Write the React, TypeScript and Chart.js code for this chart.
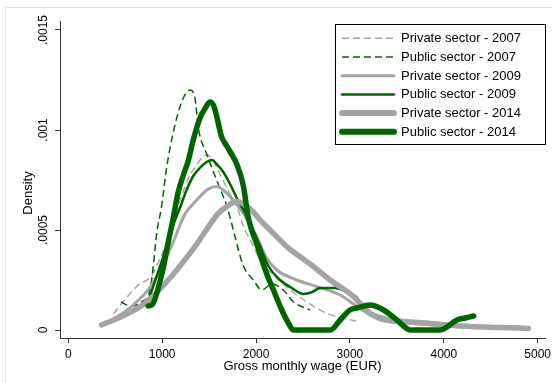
import React, { useEffect, useRef } from 'react';
import { Chart, registerables } from 'chart.js';

Chart.register(...registerables);

const FONT = "'Liberation Sans', Arial, sans-serif";

// Axis ticks
const xTickValues = [0, 1000, 2000, 3000, 4000, 5000];
const xTickLabels = ['0', '1000', '2000', '3000', '4000', '5000'];
const yTickValues = [0, 0.0005, 0.001, 0.0015];
const yTickLabels = ['0', '.0005', '.001', '.0015'];

const xTitle = 'Gross monthly wage (EUR)';
const yTitle = 'Density';

const seriesNames = [
  'Private sector - 2007',
  'Public sector - 2007',
  'Private sector - 2009',
  'Public sector - 2009',
  'Private sector - 2014',
  'Public sector - 2014',
];

// Private sector - 2007
const priv2007X = [480, 600, 745, 887, 950, 1000, 1100, 1200, 1300, 1349, 1420, 1474, 1540, 1616, 1700, 1794, 1865, 1971, 2043, 2150, 2291, 2420, 2576, 2720, 2861, 2967, 3100];
const priv2007Y = [0.00008, 0.00015, 0.000225, 0.00027, 0.00033, 0.00038, 0.00052, 0.00066, 0.00078, 0.00081, 0.00086, 0.000875, 0.00085, 0.00078, 0.0007, 0.00062, 0.00052, 0.00042, 0.00035, 0.00029, 0.00023, 0.00018, 0.00013, 0.00009, 0.000067, 0.000055, 0.00004];

// Public sector - 2007
const pub2007X = [560, 660, 780, 870, 905, 941, 994, 1047, 1136, 1225, 1296, 1349, 1385, 1474, 1580, 1688, 1758, 1812, 1865, 1971, 2061, 2167, 2290, 2400, 2576];
const pub2007Y = [0.00014, 0.00012, 0.00014, 0.0002, 0.00032, 0.00048, 0.00062, 0.00081, 0.001025, 0.00116, 0.0012, 0.00116, 0.00101, 0.00088, 0.00075, 0.00062, 0.0005, 0.0004, 0.00032, 0.00025, 0.0002, 0.00023, 0.0002, 0.00014, 0.0001];

// Private sector - 2009
const priv2009X = [420, 600, 750, 880, 1000, 1100, 1243, 1349, 1491, 1580, 1651, 1723, 1865, 2007, 2100, 2221, 2434, 2647, 2896, 3100, 3322, 3675, 4000];
const priv2009Y = [0.00004, 0.00009, 0.00015, 0.00022, 0.00032, 0.00042, 0.00058, 0.00064, 0.000705, 0.000717, 0.0007, 0.000667, 0.000583, 0.000467, 0.00037, 0.0003, 0.00025, 0.000217, 0.000175, 0.00011, 0.00005, 0.000033, 0.00002];

// Public sector - 2009
const pub2009X = [870, 950, 1000, 1065, 1130, 1189, 1260, 1331, 1400, 1474, 1530, 1598, 1651, 1723, 1794, 1865, 1936, 2043, 2131, 2256, 2380, 2505, 2600, 2683, 2780, 2843, 2967, 3074];
const pub2009Y = [0.00017, 0.00028, 0.00035, 0.00045, 0.00054, 0.00061, 0.0007, 0.00077, 0.00081, 0.00084, 0.00085, 0.00082, 0.00079, 0.00073, 0.00066, 0.0006, 0.00053, 0.00042, 0.00032, 0.00025, 0.00021, 0.00018, 0.00019, 0.00021, 0.00021, 0.00021, 0.00019, 0.000165];

// Private sector - 2014
const priv2014X = [354, 567, 816, 1065, 1349, 1598, 1688, 1794, 1901, 1971, 2043, 2149, 2327, 2576, 2790, 3038, 3216, 3429, 3643, 3856, 4282, 4600, 4900];
const priv2014Y = [0.000025, 0.000067, 0.000133, 0.00025, 0.000417, 0.000583, 0.000617, 0.000642, 0.00062, 0.00059, 0.00055, 0.0005, 0.000417, 0.00033, 0.00025, 0.000167, 0.000083, 0.00005, 0.00004, 0.000033, 0.000017, 0.000013, 0.000008];

// Public sector - 2014
const pub2014X = [851, 900, 958, 1011, 1065, 1118, 1171, 1230, 1280, 1331, 1403, 1460, 1509, 1550, 1590, 1630, 1688, 1750, 1794, 1865, 1918, 2007, 2114, 2185, 2274, 2350, 2398, 2790, 2896, 3000, 3074, 3216, 3358, 3500, 3643, 3962, 4141, 4230, 4318];
const pub2014Y = [0.00012, 0.00013, 0.00021, 0.00031, 0.00044, 0.00056, 0.00069, 0.00078, 0.00085, 0.00095, 0.00106, 0.00111, 0.00114, 0.00112, 0.00105, 0.00097, 0.00092, 0.00087, 0.00083, 0.00072, 0.00056, 0.00043, 0.00028, 0.0002, 0.0001, 0.00003, 0, 0, 0.00005, 0.0001, 0.00011, 0.000125, 0.0001, 0.00005, 0, 0, 0.00005, 0.00006, 0.00007];

const seriesX = [priv2007X, pub2007X, priv2009X, pub2009X, priv2014X, pub2014X];
const seriesY = [priv2007Y, pub2007Y, priv2009Y, pub2009Y, priv2014Y, pub2014Y];

const GRAY = '#a4a4a4';
const GREEN = '#006400';
const seriesColors = [GRAY, GREEN, GRAY, GREEN, GRAY, GREEN];
const seriesWidths = [1.5, 1.5, 3, 2.5, 5.5, 5.5];
const legendWidths = [1.5, 1.5, 3, 2.5, 6, 6];
const seriesDash: number[][] = [[7, 4], [7, 4], [], [], [], []];

const bgPlugin = {
  id: 'bgPlugin',
  beforeDraw(chart: any) {
    const { ctx, width, height } = chart;
    ctx.save();
    ctx.fillStyle = '#ffffff';
    ctx.fillRect(0, 0, width, height);
    ctx.strokeStyle = '#e4e4e4';
    ctx.lineWidth = 1;
    ctx.beginPath();
    ctx.moveTo(5.5, height);
    ctx.lineTo(5.5, 7.5);
    ctx.lineTo(width, 7.5);
    ctx.stroke();
    ctx.restore();
  },
};

const titlePlugin = {
  id: 'yTitlePlugin',
  afterDraw(chart: any) {
    const { ctx } = chart;
    ctx.save();
    ctx.translate(28, 193);
    ctx.rotate(-Math.PI / 2);
    ctx.font = `13px ${FONT}`;
    ctx.fillStyle = '#000';
    ctx.textAlign = 'center';
    ctx.textBaseline = 'middle';
    ctx.fillText(yTitle, 0, 0);
    ctx.restore();
  },
};

const legendPlugin = {
  id: 'boxLegend',
  afterDraw(chart: any) {
    const { ctx } = chart;
    const left = 335.5, top = 24.5, right = 545.5, bottom = 144.5;
    ctx.save();
    ctx.fillStyle = '#fff';
    ctx.fillRect(left, top, right - left, bottom - top);
    ctx.strokeStyle = '#000';
    ctx.lineWidth = 1;
    ctx.setLineDash([]);
    ctx.strokeRect(left, top, right - left, bottom - top);
    seriesNames.forEach((name, i) => {
      const y = 38.3 + i * 18.7;
      ctx.save();
      ctx.strokeStyle = seriesColors[i];
      ctx.lineWidth = legendWidths[i];
      ctx.setLineDash(seriesDash[i]);
      ctx.lineCap = seriesDash[i].length ? 'butt' : 'round';
      ctx.beginPath();
      ctx.moveTo(342, y);
      ctx.lineTo(394, y);
      ctx.stroke();
      ctx.restore();
      ctx.font = `13px ${FONT}`;
      ctx.fillStyle = '#000';
      ctx.textAlign = 'left';
      ctx.textBaseline = 'middle';
      ctx.fillText(name, 401, y + 0.5);
    });
    ctx.restore();
  },
};

export default function App() {
  const ref = useRef<HTMLCanvasElement | null>(null);

  useEffect(() => {
    const canvas = ref.current;
    if (!canvas) return;
    const datasets = seriesNames.map((name, i) => ({
      label: name,
      data: seriesX[i].map((x, j) => ({ x, y: seriesY[i][j] })),
      borderColor: seriesColors[i],
      backgroundColor: seriesColors[i],
      borderWidth: seriesWidths[i],
      borderDash: seriesDash[i],
      borderCapStyle: seriesDash[i].length ? 'butt' : 'round',
      borderJoinStyle: 'round',
      cubicInterpolationMode: 'monotone',
      pointRadius: 0,
      fill: false,
      order: 5 - i,
    }));

    const chart = new Chart(canvas, {
      type: 'line',
      data: { datasets } as any,
      options: {
        animation: false,
        responsive: false,
        devicePixelRatio: 1,
        layout: { padding: { top: 21, right: 7, left: 0, bottom: 0 } },
        plugins: { legend: { display: false }, tooltip: { enabled: false } },
        scales: {
          x: {
            type: 'linear',
            min: -88.4,
            max: 5077.8,
            afterBuildTicks: (s: any) => {
              s.ticks = xTickValues.map((v) => ({ value: v }));
            },
            afterFit: (s: any) => {
              s.height = 45;
              s.paddingLeft = 0;
              s.paddingRight = 0;
            },
            grid: { display: true, drawOnChartArea: false, drawTicks: true, tickLength: 5, color: '#333' },
            border: { display: true, color: '#333', width: 1 },
            ticks: {
              autoSkip: false,
              maxRotation: 0,
              minRotation: 0,
              padding: 4,
              color: '#000',
              font: { family: FONT, size: 12 },
              callback: (v: any) => {
                const k = xTickValues.indexOf(Number(v));
                return k >= 0 ? xTickLabels[k] : '';
              },
            },
            title: {
              display: true,
              text: xTitle,
              color: '#000',
              font: { family: FONT, size: 13 },
              padding: { top: 0, bottom: 9 },
            },
          },
          y: {
            type: 'linear',
            min: -0.00004,
            max: 0.001545,
            afterBuildTicks: (s: any) => {
              s.ticks = yTickValues.map((v) => ({ value: v }));
            },
            afterFit: (s: any) => {
              s.width = 60;
              s.paddingTop = 0;
              s.paddingBottom = 0;
            },
            grid: { display: true, drawOnChartArea: false, drawTicks: true, tickLength: 5, color: '#333' },
            border: { display: true, color: '#333', width: 1 },
            ticks: {
              autoSkip: false,
              minRotation: 90,
              maxRotation: 90,
              crossAlign: 'center',
              padding: -4,
              color: '#000',
              font: { family: FONT, size: 12 },
              callback: (v: any) => {
                const k = yTickValues.findIndex((t) => Math.abs(t - Number(v)) < 1e-9);
                return k >= 0 ? yTickLabels[k] : '';
              },
            },
          },
        },
      } as any,
      plugins: [bgPlugin, titlePlugin, legendPlugin],
    });
    return () => chart.destroy();
  }, []);

  return (
    <div style={{ position: 'absolute', left: 0, top: 0, width: 552, height: 383 }}>
      <canvas ref={ref} width={552} height={383} style={{ display: 'block', width: 552, height: 383 }} />
    </div>
  );
}
